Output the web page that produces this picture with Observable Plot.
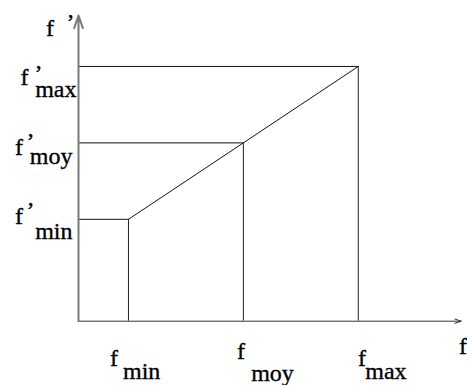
<!DOCTYPE html>
<html><head><meta charset="utf-8">
<script src="https://cdn.jsdelivr.net/npm/d3@7"></script>
<script src="https://cdn.jsdelivr.net/npm/@observablehq/plot@0.6"></script>
<style>
html,body{margin:0;padding:0;background:#fff;overflow:hidden}
</style>
</head><body><div id="chart"></div>
<script>
// ---- data ----
const levels = ["min", "moy", "max"];
const fValues = [1, 3.3, 5.6];          // f_min, f_moy, f_max
const fPrimeValues = [2, 3.5, 5];       // f'_min, f'_moy, f'_max
const xAxisMax = 7.66;
const yAxisMax = 6;
const varName = "f";
const primeMark = "’";

const pts = levels.map((k, i) => ({level: k, x: fValues[i], y: fPrimeValues[i]}));
const yAnchors = levels.map((k, i) => ({level: k, x: 0, y: fPrimeValues[i]}));
const xAnchors = levels.map((k, i) => ({level: k, x: fValues[i], y: 0}));

// ---- layout (pixel offsets for label pieces) ----
const yLab = {
  min: {f: [-63.5, 4.5], p: [-52, -1], s: [-6, 19.5]},
  moy: {f: [-63.5, 12.6], p: [-52, 6.6], s: [-6, 21.6]},
  max: {f: [-58, 19], p: [-44, 15], s: [-2, 31]}
};
const xLab = {
  min: {f: [-18.5, 44.3], s: [-5.5, 57.3]},
  moy: {f: [-6.4, 37.3], s: [7.8, 59.3]},
  max: {f: [-0.3, 44.3], s: [7, 57.3]}
};

const font = {fontFamily: "Liberation Serif", fontSize: 24, fill: "#000", stroke: "#000", strokeWidth: 0.35, lineAnchor: "bottom"};
function piece(d, text, [dx, dy], anchor = "start") {
  return Plot.text([d], {x: "x", y: "y", text: () => text, dx, dy, ...font, textAnchor: anchor});
}

const labelMarks = [];
yAnchors.forEach(d => {
  const o = yLab[d.level];
  labelMarks.push(piece(d, varName, o.f), piece(d, primeMark, o.p), piece(d, d.level, o.s, "end"));
});
xAnchors.forEach(d => {
  const o = xLab[d.level];
  labelMarks.push(piece(d, varName, o.f), piece(d, d.level, o.s));
});
labelMarks.push(
  piece({x: 0, y: yAxisMax}, varName, [-32.5, 20]),
  piece({x: 0, y: yAxisMax}, primeMark, [-12, 14]),
  piece({x: xAxisMax, y: 0}, varName, [-2.2, 32.3])
);

const chart = Plot.plot({
  width: 467,
  height: 385,
  marginLeft: 78,
  marginRight: 6.3,
  marginTop: 15,
  marginBottom: 64.3,
  x: {domain: [0, xAxisMax], axis: null},
  y: {domain: [0, yAxisMax], axis: null},
  style: {background: "#fff", overflow: "visible", fontFamily: "Liberation Serif"},
  marks: [
    Plot.ruleY(pts, {y: "y", x1: 0, x2: "x", stroke: "#111", strokeWidth: 1}),
    Plot.ruleX(pts, {x: "x", y1: 0, y2: "y", stroke: "#222", strokeWidth: 1}),
    Plot.line(pts, {x: "x", y: "y", stroke: "#111", strokeWidth: 1}),
    Plot.arrow([{x1: 0, y1: 0, x2: xAxisMax, y2: 0}], {x1: "x1", y1: "y1", x2: "x2", y2: "y2", stroke: "#333", strokeWidth: 1, headLength: 10, headAngle: 38}),
    Plot.arrow([{x1: 0, y1: 0, x2: 0, y2: yAxisMax}], {x1: "x1", y1: "y1", x2: "x2", y2: "y2", stroke: "#7a7a7a", strokeWidth: 2, headLength: 10, headAngle: 38}),
    ...labelMarks
  ]
});
document.getElementById("chart").appendChild(chart);
</script>
</body></html>
